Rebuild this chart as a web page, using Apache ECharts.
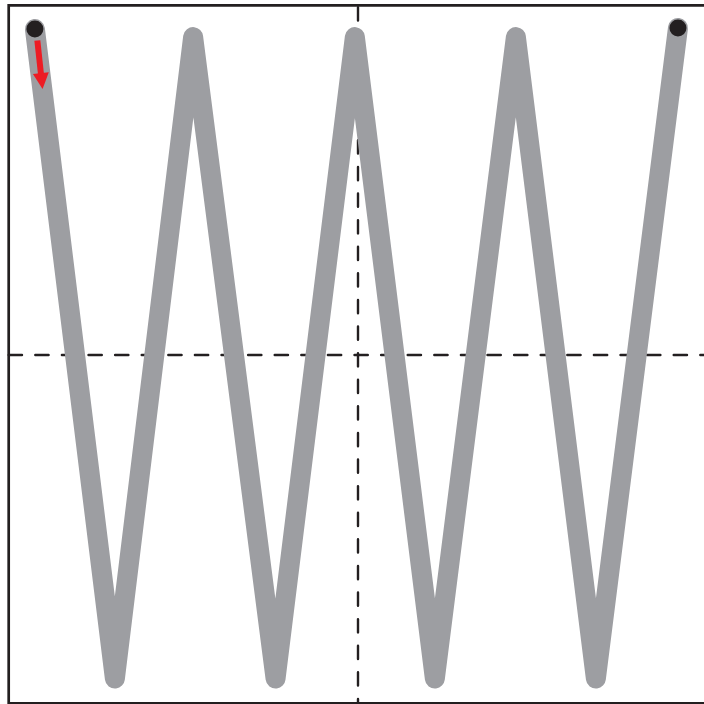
<!DOCTYPE html>
<html>
<head>
<meta charset="utf-8">
<style>
html,body{margin:0;padding:0;background:#fff;}
#chart{width:704px;height:704px;}
</style>
<script src="https://cdn.jsdelivr.net/npm/echarts@6/dist/echarts.min.js"></script>
</head>
<body>
<div id="chart"></div>
<script>
// Zigzag path vertices (data units, axes span -1..1)
const pathX = [-0.925, -0.696, -0.472, -0.236, -0.009, 0.220, 0.452, 0.681, 0.916];
const pathY = [0.932, -0.929, 0.909, -0.929, 0.909, -0.929, 0.909, -0.929, 0.935];
// Start / end markers
const markerX = [-0.925, 0.916];
const markerY = [0.932, 0.935];
// Direction arrow (start, end)
const arrowX = [-0.918, -0.9055];
const arrowY = [0.899, 0.783];

const chart = echarts.init(document.getElementById('chart'));
const dark = '#231f20';
chart.setOption({
  animation: false,
  grid: {left: 8.7, top: 5.3, width: 698.6, height: 698, show: true, outerBoundsMode: 'none',
         containLabel: false,
         borderColor: dark, borderWidth: 2.7, backgroundColor: 'transparent'},
  xAxis: {type: 'value', min: -1, max: 1,
    axisLine: {show: true, onZero: true, lineStyle: {color: dark, width: 2.4, type: [13.3, 13.3], dashOffset: 0}},
    axisTick: {show: false}, axisLabel: {show: false}, splitLine: {show: false}},
  yAxis: {type: 'value', min: -1, max: 1,
    axisLine: {show: true, onZero: true, lineStyle: {color: dark, width: 2.4, type: [13.3, 13.3], dashOffset: 8.9}},
    axisTick: {show: false}, axisLabel: {show: false}, splitLine: {show: false}},
  series: [
    {type: 'line', data: pathX.map((x, i) => [x, pathY[i]]), showSymbol: false, symbol: 'none',
     lineStyle: {color: '#9d9ea2', width: 20, cap: 'round', join: 'round'}, z: 3},
    {type: 'scatter', data: markerX.map((x, i) => [x, markerY[i]]), symbolSize: 17,
     itemStyle: {color: dark, opacity: 1}, z: 4},
    {type: 'lines', coordinateSystem: 'cartesian2d', z: 5,
     data: [{coords: [[arrowX[0], arrowY[0]], [arrowX[1], arrowY[1]]]}],
     symbol: ['none', 'triangle'], symbolSize: [18, 16],
     lineStyle: {color: '#ed1c24', width: 6, opacity: 1, curveness: 0}}
  ]
});
</script>
</body>
</html>
